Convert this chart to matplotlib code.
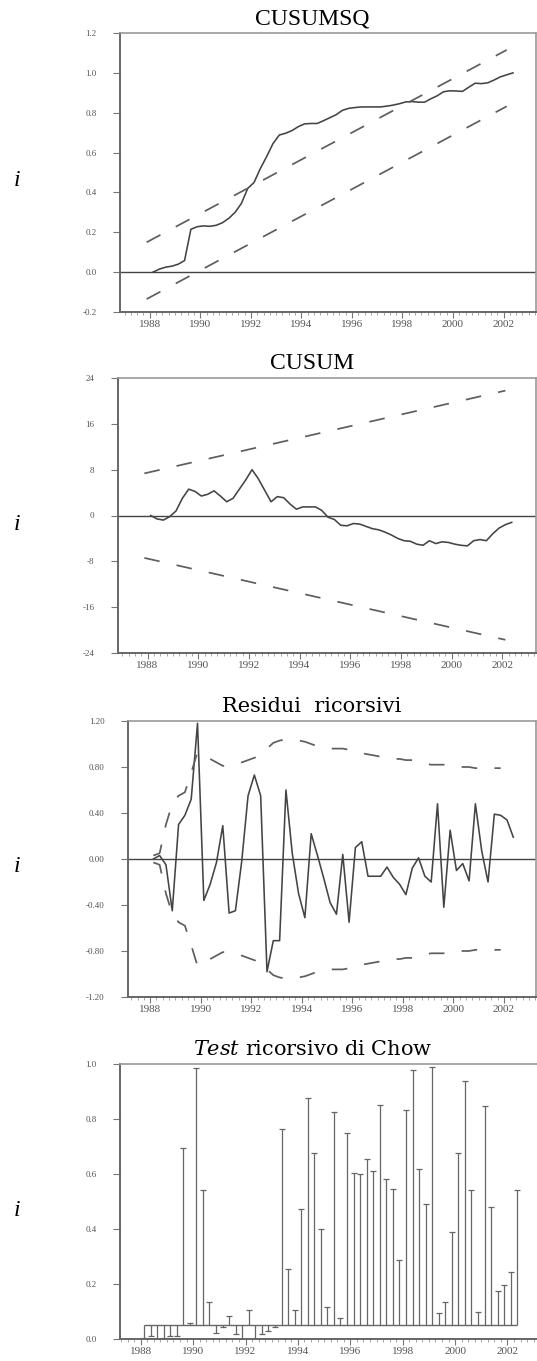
import numpy as np
import matplotlib
matplotlib.use("Agg")
import matplotlib.pyplot as plt
from matplotlib.ticker import MultipleLocator

plt.rcParams['mathtext.fontset'] = 'dejavuserif'

# ---------------- data (quarterly, 1988Q1 - 2002Q2) ----------------
n_obs = 58
start_year = 1988

cusumsq = [0.000, 0.015, 0.025, 0.030, 0.040, 0.058, 0.215, 0.228, 0.232, 0.230,
           0.235, 0.248, 0.270, 0.300, 0.345, 0.420, 0.450, 0.520, 0.580, 0.645,
           0.688, 0.697, 0.710, 0.730, 0.744, 0.746, 0.746, 0.760, 0.775, 0.790,
           0.812, 0.822, 0.826, 0.829, 0.829, 0.829, 0.829, 0.833, 0.838, 0.845,
           0.854, 0.856, 0.853, 0.853, 0.870, 0.885, 0.905, 0.910, 0.909, 0.907,
           0.928, 0.948, 0.946, 0.950, 0.964, 0.980, 0.990, 1.000]
cusumsq_upper = [0.150, 1.115]
cusumsq_lower = [-0.135, 0.832]

cusum = [0.0, -0.6, -0.8, -0.2, 0.8, 3.0, 4.6, 4.2, 3.4, 3.7,
         4.3, 3.4, 2.4, 3.0, 4.6, 6.2, 8.0, 6.4, 4.4, 2.4,
         3.3, 3.1, 2.0, 1.1, 1.5, 1.5, 1.5, 0.9, -0.3, -0.7,
         -1.7, -1.8, -1.4, -1.5, -1.9, -2.3, -2.5, -2.9, -3.4, -4.0,
         -4.4, -4.5, -5.0, -5.2, -4.4, -4.9, -4.6, -4.7, -5.0, -5.2,
         -5.3, -4.4, -4.2, -4.4, -3.2, -2.2, -1.6, -1.2]
cusum_upper = [7.35, 21.8]
cusum_lower = [-7.4, -21.7]
bound_years = [1987.875, 2002.125]

resid = [0.00, 0.03, -0.05, -0.45, 0.30, 0.38, 0.52, 1.18, -0.36, -0.22,
         -0.03, 0.29, -0.47, -0.45, -0.02, 0.55, 0.73, 0.55, -0.98, -0.71,
         -0.71, 0.60, 0.05, -0.30, -0.51, 0.22, 0.03, -0.17, -0.38, -0.48,
         0.04, -0.55, 0.10, 0.15, -0.15, -0.15, -0.15, -0.07, -0.16, -0.22,
         -0.31, -0.08, 0.01, -0.15, -0.20, 0.48, -0.42, 0.25, -0.10, -0.04,
         -0.19, 0.48, 0.07, -0.20, 0.39, 0.38, 0.34, 0.19]
resid_se2 = [0.03, 0.05, 0.30, 0.48, 0.55, 0.58, 0.75, 0.93, 0.90, 0.87,
             0.84, 0.81, 0.81, 0.82, 0.84, 0.86, 0.88, 0.90, 0.96, 1.01,
             1.03, 1.04, 1.04, 1.03, 1.02, 1.00, 0.98, 0.97, 0.96, 0.96,
             0.96, 0.95, 0.93, 0.92, 0.91, 0.90, 0.89, 0.88, 0.87, 0.87,
             0.86, 0.86, 0.85, 0.83, 0.82, 0.82, 0.82, 0.82, 0.81, 0.80,
             0.80, 0.79, 0.79, 0.79, 0.79, 0.79]

chow = [0.005, 0.01, 0.0, 0.005, 0.01, 0.01,
        0.693, 0.058, 0.984, 0.541, 0.134, 0.022, 0.044, 0.083, 0.02, 0.0,
        0.104, 0.0, 0.02, 0.03,
        0.045, 0.765, 0.253, 0.107, 0.474, 0.878, 0.678, 0.399, 0.117, 0.824,
        0.077, 0.748, 0.605, 0.601, 0.656, 0.611, 0.851, 0.581, 0.544, 0.289,
        0.834, 0.978, 0.620, 0.492, 0.988, 0.095, 0.135, 0.389, 0.678, 0.939,
        0.542, 0.097, 0.848, 0.481, 0.174, 0.196, 0.243, 0.543]
chow_crit = 0.05

year_labels = [1988, 1990, 1992, 1994, 1996, 1998, 2000, 2002]

# quarter mid-points
t = start_year + 0.125 + 0.25 * np.arange(n_obs)

# ---------------- figure ----------------
W, H = 537, 1361
fig = plt.figure(figsize=(W / 100, H / 100), dpi=100)

SOLID = '#444444'
DASH = '#5e5e5e'
DASHSTYLE = (0, (9, 10))
LW_S = 1.15
LW_D = 1.25


def add_ax(l, r, top, bot):
    return fig.add_axes([l / W, 1 - bot / H, (r - l) / W, (bot - top) / H])


def style(ax, xlim, ylim, yticks, yfmt):
    ax.set_xlim(*xlim)
    ax.set_ylim(*ylim)
    ax.set_xticks(year_labels)
    ax.set_xticklabels([str(y) for y in year_labels], family='Liberation Serif')
    ax.xaxis.set_minor_locator(MultipleLocator(0.25))
    ax.set_yticks(yticks)
    ax.set_yticklabels([yfmt.format(v) for v in yticks], family='Liberation Serif')
    ax.tick_params(axis='x', which='major', direction='out', length=4, width=0.8,
                   color='#777777', labelsize=8, labelcolor='#555555', pad=2)
    ax.tick_params(axis='x', which='minor', direction='out', length=2, width=0.6,
                   color='#999999')
    ax.tick_params(axis='y', which='major', direction='out', length=5, width=0.8,
                   color='#777777', labelsize=6.5, labelcolor='#555555', pad=12)
    for s in ['left', 'bottom']:
        ax.spines[s].set_color('#666666')
        ax.spines[s].set_linewidth(1.4)
    for s in ['top', 'right']:
        ax.spines[s].set_color('#999999')
        ax.spines[s].set_linewidth(1.2)


# ---- Panel 1: CUSUMSQ ----
ax1 = add_ax(120, 536, 33, 312)
ax1.plot(t, cusumsq, color=SOLID, lw=LW_S)
ax1.plot(bound_years, cusumsq_upper, color=DASH, lw=LW_D, ls=DASHSTYLE)
ax1.plot(bound_years, cusumsq_lower, color=DASH, lw=LW_D, ls=DASHSTYLE)
ax1.axhline(0, color='#444444', lw=1.0)
style(ax1, (1986.82, 2003.285), (-0.2, 1.2), [-0.2, 0.0, 0.2, 0.4, 0.6, 0.8, 1.0, 1.2], '{:.1f}')

# ---- Panel 2: CUSUM ----
ax2 = add_ax(118, 536, 378, 653)
ax2.plot(t, cusum, color=SOLID, lw=LW_S)
ax2.plot(bound_years, cusum_upper, color=DASH, lw=LW_D, ls=DASHSTYLE)
ax2.plot(bound_years, cusum_lower, color=DASH, lw=LW_D, ls=DASHSTYLE)
ax2.axhline(0, color='#444444', lw=1.0)
style(ax2, (1986.834, 2003.334), (-24, 24), [-24, -16, -8, 0, 8, 16, 24], '{:d}')

# ---- Panel 3: recursive residuals ----
ax3 = add_ax(128, 536, 721, 997)
ax3.plot(t, resid, color=SOLID, lw=LW_S)
nb = len(resid_se2)
ax3.plot(t[:nb], resid_se2, color=DASH, lw=LW_D, ls=DASHSTYLE)
ax3.plot(t[:nb], [-v for v in resid_se2], color=DASH, lw=LW_D, ls=DASHSTYLE)
ax3.axhline(0, color='#444444', lw=1.0)
style(ax3, (1987.123, 2003.274), (-1.2, 1.2), [-1.2, -0.8, -0.4, 0.0, 0.4, 0.8, 1.2], '{:.2f}')

# ---- Panel 4: recursive Chow test ----
ax4 = add_ax(120, 540, 1064, 1339)
ax4.vlines(t, chow_crit, chow, color='#666666', lw=0.9)
ax4.plot(t, chow, ls='none', marker='_', ms=4, mew=0.9, color='#666666')
ax4.hlines(chow_crit, t[0], t[-1], color='#666666', lw=1.0)
style(ax4, (1987.209, 2003.241), (0.0, 1.0), [0.0, 0.2, 0.4, 0.6, 0.8, 1.0], '{:.1f}')

# ---------------- titles and side labels ----------------
fig.text(312 / W, 1 - 25 / H, 'CUSUMSQ', family='Liberation Serif', fontsize=17,
         ha='center', va='baseline')
fig.text(312 / W, 1 - 369 / H, 'CUSUM', family='Liberation Serif', fontsize=17,
         ha='center', va='baseline')
fig.text(312 / W, 1 - 712 / H, 'Residui  ricorsivi', family='DejaVu Serif', fontsize=15,
         ha='center', va='baseline')
fig.text(313 / W, 1 - 1055 / H, r'$\mathit{Test}$ ricorsivo di Chow', family='DejaVu Serif',
         fontsize=15, ha='center', va='baseline')

for yc in [180, 524, 867, 1210]:
    fig.text(17 / W, 1 - yc / H, 'i', family='Liberation Serif', fontstyle='italic',
             fontsize=17, ha='center', va='center')

fig.savefig('out.png', dpi=100)
